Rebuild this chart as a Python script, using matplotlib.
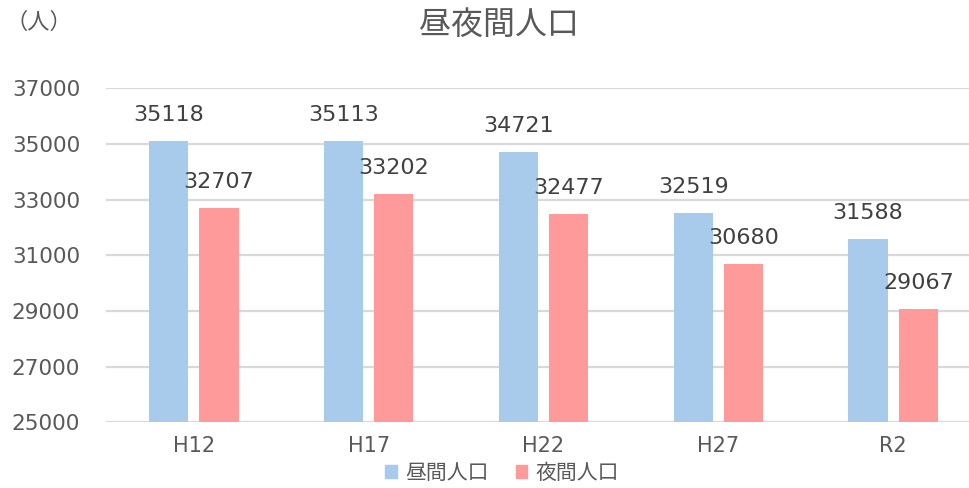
import matplotlib
matplotlib.use("Agg")
import matplotlib.pyplot as plt
import numpy as np
from matplotlib.patches import Patch

plt.rcParams['font.family'] = ['Noto Sans CJK JP', 'DejaVu Sans']

categories = ["H12", "H17", "H22", "H27", "R2"]
daytime = [35118, 35113, 34721, 32519, 31588]
nighttime = [32707, 33202, 32477, 30680, 29067]
series_names = ["昼間人口", "夜間人口"]
yticks = [25000, 27000, 29000, 31000, 33000, 35000, 37000]

blue = "#A9CBEB"
red = "#FF9A9A"
text_col = "#595959"
num_font = ['DejaVu Sans']

fig = plt.figure(figsize=(9.7, 4.88), dpi=100)
W, H = 970, 488
left, right = 106.5 / W, 980.5 / W
bottom, top = 1 - 422.3 / H, 1 - 88.3 / H
ax = fig.add_axes([left, bottom, right - left, top - bottom])

x = np.arange(len(categories))
bw = 0.224
off = 0.144
ax.bar(x - off, daytime, bw, color=blue, zorder=3)
ax.bar(x + off, nighttime, bw, color=red, zorder=3)

for xs, vals in ((x - off, daytime), (x + off, nighttime)):
    for xi, v in zip(xs, vals):
        ax.annotate(str(v), (xi, v), xytext=(0, 20), textcoords='offset pixels',
                    ha='center', va='baseline', fontsize=16, color="#404040",
                    family=num_font, zorder=4)

ax.set_xlim(-0.5, len(categories) - 0.5)
ax.set_ylim(25000, 37000)
ax.set_yticks(yticks)
ax.set_yticklabels([str(t) for t in yticks], family=num_font)
ax.set_xticks(x)
ax.set_xticklabels(categories, family=num_font)
ax.yaxis.grid(True, color="#D9D9D9", linewidth=1.6, zorder=0)
ax.set_axisbelow(True)
for s in ax.spines.values():
    s.set_visible(False)
ax.tick_params(axis='y', length=0, pad=19, labelsize=15.5, labelcolor=text_col)
ax.tick_params(axis='x', length=0, pad=10, labelsize=15, labelcolor=text_col)

fig.text(499 / W, 1 - 25 / H, "昼夜間人口", ha='center', va='center', fontsize=23, color=text_col)
fig.text(39 / W, 1 - 22 / H, "（人）", ha='center', va='center', fontsize=16, color=text_col)

handles = [Patch(color=blue, label=series_names[0]), Patch(color=red, label=series_names[1])]
fig.legend(handles=handles, loc='center', bbox_to_anchor=(502 / W, 1 - 473 / H), ncol=2,
           frameon=False, fontsize=15, handlelength=0.55, handleheight=0.55,
           handletextpad=0.4, columnspacing=1.3, labelcolor=text_col)

fig.savefig("out.png", dpi=100)
